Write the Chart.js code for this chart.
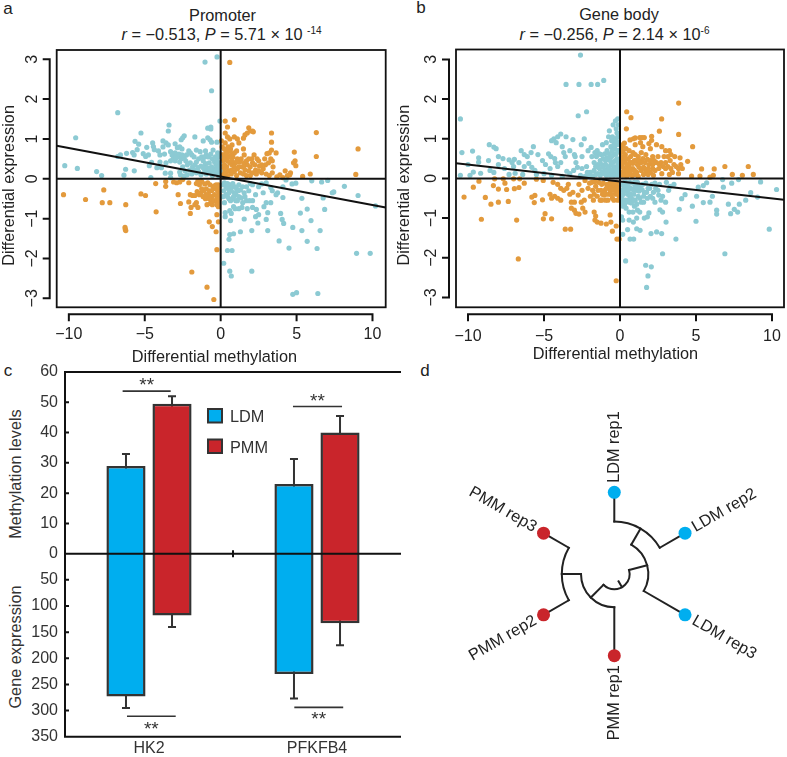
<!DOCTYPE html>
<html><head><meta charset="utf-8">
<script src="https://cdn.jsdelivr.net/npm/chart.js@4"></script>
<style>
html,body{margin:0;padding:0;background:#fff;width:787px;height:757px;overflow:hidden;font-family:"Liberation Sans",Arial,sans-serif;color:#222}
canvas{position:absolute}
.t{position:absolute;font-size:16.3px;line-height:18px;white-space:nowrap;color:#222}
.c{transform:translate(-50%,-50%)}
.v{transform:translate(-50%,-50%) rotate(-90deg)}
sup{font-size:10px;line-height:0;vertical-align:6px}
</style></head><body>
<div class="t c" style="left:8px;top:9px;font-size:17px">a</div>
<div class="t c" style="left:421px;top:8px;font-size:17px">b</div>
<div class="t c" style="left:8px;top:371px;font-size:17px">c</div>
<div class="t c" style="left:425px;top:371px;font-size:17px">d</div>
<div class="t c" style="left:222.5px;top:15px">Promoter</div>
<div class="t c" style="left:221.5px;top:34px"><i>r</i> = −0.513, <i>P</i> = 5.71 × 10 <sup>-14</sup></div>
<div class="t c" style="left:619px;top:14px">Gene body</div>
<div class="t c" style="left:614.5px;top:34px"><i>r</i> = −0.256, <i>P</i> = 2.14 × 10<sup>-6</sup></div>
<div class="t v" style="left:14.5px;top:474px;color:#333">Methylation levels</div>
<div class="t v" style="left:14.5px;top:647px;color:#333">Gene expression</div>
<script>
// ---------- Panel a: promoter ----------
const aBlue=[[-1.03,2.93],[-.24,3.06],[-.6,2.21],[-6.78,1.66],[-9.55,1.03],[-10.27,.33],[-9.44,.26],[-8.17,.18],[-7.84,.08],[-6.37,.09],[-6.26,.24],[-5.69,.2],[-6.78,.56],[-6.6,.6],[-6.2,.64],[-5.8,.66],[-5.7,.6],[-5.64,.94],[-5.4,.87],[-5.25,1.15],[-4.87,.79],[-5.5,.73],[-5.1,.63],[-4.94,.56],[-4.76,.6],[-4.48,.9],[-4.43,.81],[-4.37,.73],[-4.55,.41],[-4.7,.33],
[-3.4,1.35],[-3.45,1.2],[-2.4,1.08],[-2.5,1.03],[-2.6,.98],[-1.7,1.05],[-.85,1.03],[-.7,.98],[-1.15,.95],[-.6,.92],[-.25,.92],[-.85,1.27],[-.65,1.3],[-.65,1.25],[-.05,1.45],[-3.8,.95],[-3.6,.9],[-3.8,.8],[-3.45,.85],[-3,.88],[-2.85,.78],[-2.7,.8],[-2.55,.75],[-2.1,.7],[-2,.65],[-1.9,.6],[-1.6,.72],[-1.35,.68],[-1,.7],[-.95,.6],[-.5,.72],[-.2,.65],[-.1,.55],
[-4.1,.7],[-4,.6],[-3.7,.62],[-3.3,.68],[-3.2,.6],[-3.1,.55],[-3,.65],[-2.9,.6],[-2.8,.55],[-2.6,.5],[-2.4,.52],[-2.3,.45],[-2.7,.42],[-3,.45],[-3.3,.45],[-3.6,.4],[-4,.42],[-4.2,.28],[-3.9,.28],[-3.65,.14],[-3.3,.14],[-2.7,.17],[-2.5,.3],[-2.2,.35],[-2,.4],[-1.85,.3],[-1.7,.35],[-1.6,.42],[-1.5,.28],[-1.3,.32],[-1.15,.45],[-1,.38],[-.9,.28],[-.75,.4],[-.6,.3],[-.55,.5],[-.4,.42],[-.3,.35],[-.15,.28],[-.1,.4],[-.05,.2],[-.2,.12],[-.4,.15],[-.6,.15],[-.8,.18],[-1.05,.2],[-1.3,.1],[-1.6,.15],[-1.9,.12],[-2.2,.1],[-2.4,.07],[-2.65,.1],[-4.6,.03],[-3.3,.03],
[10.2,-.68],[9.05,-.42],[8.15,-.19],[7.35,-.35],[7.45,-.33],[7.05,-.04],[6.65,-.08],[6.75,-.48],[6.85,-.77],[6.55,-1.3],[5.95,-1.05],[5.7,-.76],[5.25,-.86],[5.35,-.49],[4.95,-.11],[6,-.05],[4.3,-.03],[4.1,-.47],[4.1,-.2],[3.75,-.35],[3.95,-.87],[4.05,-1.02],[4.15,-1.12],[4.7,-.13],[5.35,-1.3],[5.7,-1.57],[4.75,-1.22],[3.85,-1.56],[4.5,-1.74],[6.35,-1.75],[8.95,-1.87],[9.85,-1.87],[4.75,-2.9],[5,-2.86],[6.4,-2.88],[2.05,-2.32],[.6,-2.32],[.7,-2.44],[.2,-2.12],[.45,-1.8],[.75,-1.8],[.55,-1.52],[.6,-1.4],[.85,-1.38],[1.3,-1.33],[2.05,-1.3],[3.1,-1.3],[2.45,-1.11],[1.55,-1.01],[3,-1.02],[3.1,-.85],[2.5,-.9],[2.3,-.95],[2.1,-.72],[2.35,-.77],[2.85,-.7],[3,-.6],[3.3,-.6],[3.65,-.4],[3.4,-.3],[2.8,-.35],[2.5,-.2],[2.3,-.4],[2.1,-.55],[1.9,-.55],[1.75,-.75],[1.4,-.72],[1.2,-.75],[.95,-.75],[.85,-.7],[.7,-.87],[.6,-.8],[.3,-.85],[.3,-.95],[.65,-1.05],[1,-.55],[1.2,-.45],[1.35,-.48],[1.55,-.35],[1.7,-.2],[1.85,-.3],[2.1,-.15],[1.2,-.15],[1.05,-.25],[.9,-.35],[.8,-.5],[.7,-.3],[.6,-.15],[.5,-.25],[.35,-.4],[.25,-.6],[.2,-.3],[.15,-.15],[.45,-.45],[1,-.4],[1.15,-.3],[.75,-.2],[2.7,-.13],[3,-.1],[3.3,-.22],[1.45,-.6],[1.7,-.55]];
const aBlueCore=[[-3.15,.48],[-2.95,.52],[-2.75,.62],[-2.55,.6],[-2.25,.6],[-1.75,.55],[-1.45,.5],[-1.25,.55],[-1.05,.55],[-.8,.55],[-.65,.62],[-.35,.55],[-.25,.45],[-.45,.25],[-.7,.25],[-.95,.12],[-1.15,.28],[-1.45,.18],[-1.75,.22],[-2.05,.22],[-2.35,.2],[-.15,.08],[-.3,.22],[-.1,.3],[-.55,.08],
[.15,-.45],[.35,-.2],[.55,-.35],[.65,-.55],[.85,-.45],[.95,-.2],[1.3,-.28],[1.1,-.55],[.45,-.12],[.25,-.1],[.55,-.5],[.8,-.12],[1.45,-.2],[1.6,-.45],[1.95,-.12]];
const aOrange=[[.6,2.92],[.3,1.45],[.9,1.48],[.45,1.3],[1.85,1.28],[1.95,1.2],[1.75,1.15],[2.1,1.2],[2.15,1.18],[1.6,1.1],[1.5,1.02],[3.35,1.15],[6.3,1.16],[9.05,.75],[6.3,.56],[4.85,.67],[4.9,.45],[4.8,.4],[4.95,.33],[4.25,.2],[4.6,.15],[4.55,.1],[4.4,.08],[5.4,.06],[5.9,.12],[8.9,.11],[3.35,.92],[3.35,.72],[3.65,.65],[3.2,.65],[3.05,.63],[3.3,.5],[3.4,.45],[3.45,.3],[3.15,.4],[2.9,.5],[2.95,.35],[2.7,.35],[2.5,.45],[2.4,.5],[2.2,.6],[2.1,.4],[1.95,.3],[1.75,.35],[1.55,.4],[1.5,.75],[1.55,.6],[1.2,.9],[1.05,.7],[1.1,.5],[.9,.65],[.8,.55],[.7,.6],[.65,.75],[.5,.8],[.3,.9],[.3,1.15],[.45,1.05],[.6,1],[.9,1.05],[1.1,1],[.25,.75],[.2,.6],[.35,.55],[.45,.45],[.6,.4],[.75,.35],[.95,.4],[1.25,.42],[1.4,.3],[1.6,.22],[1.85,.2],[2.1,.15],[2.3,.22],[2.5,.2],[2.7,.15],[3,.12],[3.2,.08],[3.4,.15],[3.7,.05],[3.9,.1],[4.1,.03],[.15,.45],[.2,.25],[.35,.15],[.5,.2],[.7,.12],[.9,.18],[1.1,.25],[1.3,.15],[1.5,.12],[1.7,.08],[.15,.1],[.1,.3],[.1,.6],[.1,.8],[.05,.95],
[-10.35,-.4],[-8.9,-.52],[-7.7,-.28],[-7.8,-.6],[-7.3,-.6],[-6.25,-.65],[-6.3,-1.22],[-6.28,-1.27],[-6.25,-1.3],[-5.25,-.38],[-4.95,-.42],[-4.25,-.83],[-4.28,-.12],[-3.62,-.07],[-3.62,-.19],[-2.9,-.1],[-3.1,-.08],[-2.7,-.08],[-2.5,-.02],[-2.1,-.1],[-2.8,-.4],[-2.65,-.62],[-2.1,-.58],[-2,-.4],[-1.85,-.42],[-1.7,-.42],[-1.6,-.6],[-1.5,-.72],[-1.95,-.72],[-2,-.87],[-1.7,-.65],[-1.4,-.4],[-1.3,-.35],[-1.15,-.45],[-1,-.5],[-.9,-.65],[-.7,-.62],[-.55,-.65],[-.6,-.45],[-.4,-.4],[-.3,-.55],[-.15,-.7],[-.2,-.55],[-.25,-.45],[-.1,-.4],[-.1,-.3],[-.2,-.3],[-.35,-.25],[-.5,-.2],[-.7,-.15],[-.85,-.1],[-1.05,-.13],[-1.25,-.07],[-1.4,-.15],[-1.5,-.05],[-.95,-.25],[-.75,-.3],[-.6,-.3],[-.15,-.15],[-.3,-.15],[-.25,-.9],[-.15,-1.08],[-.75,-1.08],[-.55,-1.2],[-.3,-1.33],[-.25,-1.78],[-1.9,-2.34],[-.9,-2.72],[-.45,-3.03],[-.15,-.6]];
const aOrangeCore=[[.25,.35],[.4,.3],[.55,.55],[.75,.45],[.9,.3],[1.05,.42],[1.2,.3],[1.35,.5],[1.5,.3],[1.7,.45],[1.85,.5],[2.05,.5],[2.25,.35],[2.55,.32],[2.8,.25],[2.35,.12],[1.95,.08],[1.05,.08],[.7,.22],[.45,.08],[.25,.15],[.12,.2],[.2,.5],[.4,.65],[.6,.7],[.35,.7],[.75,.85],
[-.2,-.2],[-.4,-.18],[-.45,-.55],[-.6,-.55],[-.8,-.4],[-.95,-.4],[-1.1,-.3],[-1.25,-.25],[-1.6,-.12],[-.1,-.5],[-.25,-.65],[-.1,-.2],[-.75,-.5],[-1.55,-.32]];
const aFit=[[-10.8,.83],[10.87,-.72]];
// ---------- Panel b: gene body ----------
const bBlue=[[-2.6,3.11],[-3.55,2.37],[-2.7,2.37],[-1.9,2.37],[-1.47,2.37],[-1.07,2.47],[-2.2,1.68],[-2.75,1.58],[-10.5,1.5],[-10.4,.65],[-9.7,.69],[-10.5,.08],[-9.3,.52],[-9.3,.41],[-8.6,.85],[-8.3,.79],[-8.15,.75],[-8.65,.45],[-9.87,.08],[-9.65,.16],[-9.17,.13],[-10,.35],
[-8.55,.2],[-8.3,.15],[-8,.35],[-8,.55],[-7.7,.5],[-7.3,.47],[-7.1,.4],[-7,.3],[-6.95,.48],[-6.65,.4],[-6.5,.7],[-6.3,.6],[-6.1,.55],[-6,.38],[-5.85,.65],[-5.7,.8],[-5.4,.6],[-5.1,.45],[-4.9,.35],[-4.7,.62],[-4.55,.55],[-4.5,.95],[-4.35,1],[-4.2,.9],[-4.1,1.05],[-3.9,1.12],[-3.8,.8],[-3.55,1.05],[-3.7,.65],[-3.6,.55],[-3.3,.7],[-3.1,.98],[-3,.6],[-2.95,.55],[-2.9,.4],[-2.5,.55],[-2.55,.85],[-2.35,1],[-2.1,.7],[-1.9,.78],[-1.85,.55],[-1.65,.65],[-1.5,.7],[-1.7,.4],[-1.45,.35],[-1.3,.45],[-1.15,.85],[-1,.62],[-.85,.7],[-.7,1.2],[-.75,1.05],[-.6,.8],[-.5,1.05],[-.45,1.35],[-.3,1.45],[-.25,1.25],[-.2,1.15],[-.15,1.5],[-.1,1.35],[-.35,.95],[-.2,.85],[-.1,.9],[-.1,.7],[-.4,.6],[-.55,.55],[-.2,.5],[-.75,.5],[-.95,.45],[-1.2,.35],[-1,.2],[-.8,.3],[-.6,.35],[-.4,.3],[-.2,.3],[-.1,.15],[-.3,.15],[-.5,.12],[-.7,.15],[-.9,.08],[-1.2,.15],[-1.45,.12],[-1.7,.2],[-1.95,.15],[-2.2,.3],[-2.5,.25],[-2.8,.28],[-3.05,.2],[-3.3,.12],[-3.5,.18],[-2.6,.08],[-2.3,.05],[-1.8,.05],[-5.8,.28],[-6.3,.3],[-5.6,.2],[-5,.12],[-4.6,.25],[-4.1,.3],[-3.9,.4],[-4.25,.4],[-4.3,.5],[-7.6,.25],[-7.3,.1],[-6.9,.13],[-6.4,.1],[-5.5,.1],[-4.5,.08],[-3.8,.05],[-1.55,.55],[-1.25,.6],[-.9,.9],[-.5,.2],
[10.3,-.28],[9.82,-1.28],[9.25,-.09],[8.6,-.36],[9.05,-.47],[8.27,-.55],[7.8,-.03],[7.85,-.65],[7.35,-.12],[6.75,-.03],[6.8,-.22],[7.13,-.65],[7.28,-.89],[7.52,-.78],[7.74,-.85],[6.9,-1.9],[6.36,-.8],[6.36,-.9],[6.08,-.45],[5.92,-.6],[5.48,-.61],[4.76,-.7],[5,-1.08],[5.7,-.11],[5.48,-.18],[5.15,-.22],[5.04,-.45],[4.28,-.41],[4.06,-.51],[3.9,-.78],[3.68,-1.53],[2.8,-1.9],[.37,-2.08],[1.69,-2.19],[2.06,-2.23],[1.84,-2.46],[1.75,-2.75],[.66,-1.53],[.9,-1.53],[.18,-1.41],[.5,-1.29],[1.1,-1.27],[1.32,-1.31],[2.04,-1.39],[2.41,-1.35],[2.74,-1.39],[3.03,-1.1],[2.63,-.79],[2.8,-.85],[1.9,-.87],[1.8,-.97],[1.6,-1],[1.1,-1],[.6,-1.05],[.88,-1.1],[.1,-.97],[.18,-1.05],
[.2,-.7],[.4,-.75],[.6,-.6],[.75,-.5],[.95,-.7],[1.15,-.8],[1.3,-.85],[1.4,-.6],[1.55,-.6],[1.6,-.35],[1.8,-.5],[2,-.45],[2.3,-.6],[2.7,-.55],[2.8,-.45],[3,-.6],[3.2,-.3],[3.3,-.2],[3.05,-.1],[2.6,-.15],[2.35,-.25],[2.1,-.15],[1.85,-.25],[1.3,-.2],[1.05,-.3],[.9,-.4],[.7,-.25],[.5,-.4],[.35,-.55],[.15,-.3],[.1,-.15],[.3,-.1],[.55,-.15],[.85,-.12],[1.15,-.1],[1.5,-.15],[.2,-.55],[.45,-.2],[.65,-.45],[1.2,-.45],[.3,-.3],[1,-.55],[3.55,-.15],[2.5,-.3]];
const bBlueCore=[[-2.15,.15],[-1.6,.3],[-1.35,.25],[-1.1,.28],[-.95,.35],[-.75,.25],[-.65,.45],[-.45,.42],[-.3,.45],[-.15,.4],[-.25,.62],[-.15,.7],[-.35,.75],[-.5,.7],[-.7,.62],[-.85,.52],[-1.1,.5],[-1.35,.62],[-.1,.25],[-.2,.18],[-.35,.25],[-.6,.22],[-.85,.18],[-1.05,.12],[-1.3,.08],[-.4,.08],[-.15,.08],[-.65,.08],[-1.6,.1],[-2.05,.05],[-.25,1],[-.15,1.05],[-.4,.85],[-.55,.95],
[.12,-.45],[.25,-.2],[.4,-.3],[.55,-.3],[.7,-.4],[.85,-.28],[1,-.2],[1.25,-.32],[1.45,-.28],[.2,-.4],[.3,-.65],[.5,-.55],[.75,-.62],[.9,-.55],[1.1,-.65],[1.3,-.5],[1.55,-.45],[1.75,-.35],[1.95,-.25],[2.2,-.35],[2.15,-.5],[2.55,-.42],[.1,-.6],[.4,-.1],[.65,-.1],[.95,-.1],[1.7,-.12],[2.3,-.12],[1.15,-.22],[.6,-.85],[.85,-.85]];
const bOrange=[[3.86,1.9],[.44,1.68],[.72,1.53],[2.74,1.5],[2.59,1.19],[3.86,1.11],[.42,1.25],[2.08,1.06],[2.08,.96],[4.78,.8],[8.44,.3],[8.77,.1],[8.05,.08],[7.39,.1],[6.9,.3],[6.2,.24],[6.14,.08],[5.92,.03],[5.37,.24],[5.26,.06],[4.71,.06],[4.45,.43],[3.95,.52],[.29,.89],[.66,.97],[.88,1],[1,1.02],[1.3,1.03],[1.45,1.03],[1.6,1.03],[1.35,.9],[1,.85],[1.5,.8],[1.9,.88],[2,.75],[2.4,.85],[2.75,.8],[3,.7],[3.25,.7],[3.35,.6],[2.9,.55],[2.5,.55],[2.15,.55],[1.7,.6],[1.4,.65],[1.2,.55],[.85,.65],[.6,.7],[.35,.6],[.2,.7],[.1,.8],[.05,.65],[.15,.5],[.35,.45],[.55,.5],[.75,.4],[.95,.45],[1.15,.35],[1.4,.4],[1.65,.4],[1.9,.35],[2.15,.35],[2.4,.4],[2.7,.4],[3,.4],[3.3,.45],[3.55,.35],[3.7,.3],[3.35,.25],[3,.25],[2.75,.12],[2.55,.25],[2.3,.2],[2,.15],[1.7,.2],[1.4,.2],[1.1,.15],[.85,.25],[.6,.3],[.35,.25],[.15,.3],[.1,.15],[.3,.1],[.55,.1],[.8,.07],[1.2,.05],[3.25,.1],[3.45,.15],[3.85,.12],[4.1,.25],[4,.35],
[-10.26,-.47],[-9.65,-.22],[-9.28,-.07],[-9.12,-1.03],[-8.86,-.48],[-8.49,-.65],[-8.33,-.18],[-8.25,-.01],[-8,-.6],[-8,-.27],[-7.68,-.01],[-7.57,-.12],[-7.46,-.28],[-7.35,-.58],[-7,-.01],[-6.95,-.26],[-6.8,-1.05],[-6.69,-2.03],[-6.6,-.01],[-6.65,-.23],[-6.3,-.12],[-5.8,-.47],[-5.6,-.43],[-5.64,-.61],[-5.04,-1.02],[-4.93,-.89],[-4.5,-1.02],[-5.1,-.54],[-5.05,-.05],[-5.5,-.02],
[-4.6,-.4],[-4.5,-.5],[-4.3,-.45],[-4.1,-.5],[-3.9,-.55],[-4.4,-.1],[-4.1,-.15],[-3.9,-.25],[-3.7,-.3],[-3.5,-.25],[-3.3,-.4],[-3.1,-.35],[-3.2,-.6],[-3,-.6],[-3,-.8],[-3.2,-.75],[-2.9,-.88],[-2.7,-.9],[-2.45,-.75],[-2.3,-.85],[-1.7,-.85],[-1.6,-.95],[-1.65,-1.05],[-1.5,-1.1],[-1.25,-1.13],[-.9,-1.15],[-.65,-.92],[-.6,-1.1],[-.5,-1.33],[-.25,-1.2],[-.2,-1.53],[-.05,-1.53],[-3.6,-1.28],[-3.25,-1.28],[-.25,-2.58],
[-2.7,-.15],[-2.5,-.3],[-2.3,-.05],[-2.1,-.25],[-1.95,-.45],[-1.8,-.3],[-1.6,-.2],[-1.5,-.45],[-1.3,-.55],[-1.15,-.4],[-1,-.3],[-.85,-.15],[-.7,-.4],[-.5,-.5],[-.3,-.4],[-.15,-.55],[-.1,-.3],[-.35,-.2],[-.55,-.2],[-.8,-.55],[-1.2,-.15],[-1.4,-.1],[-.15,-.15],[-.25,-.1],[-.05,-.45],[-2.35,-.55],[-.95,-.55],[-.65,-.3],[-.4,-.55],[-.2,-.3],[-1.85,-.1]];
const bOrangeCore=[[.2,.4],[.3,.52],[.45,.35],[.65,.4],[.85,.38],[1.05,.45],[1.25,.45],[1.5,.5],[1.8,.48],[2,.45],[2.25,.45],[2.6,.35],[2.85,.3],[3.15,.3],[.25,.2],[.45,.2],[.7,.2],[.95,.2],[1.25,.28],[1.55,.28],[1.85,.25],[2.15,.25],[.2,.08],[.45,.05],[.65,.15],[.95,.1],[1.55,.1],[1.85,.1],[2.2,.08],[.12,.4],[.1,.55],[.2,.85],[.4,.75],[.7,.55],[1,.6],[3.15,.55],[3.6,.55],[3.85,.25],
[-.1,-.12],[-.2,-.2],[-.3,-.28],[-.45,-.3],[-.6,-.4],[-.75,-.22],[-.9,-.4],[-1.05,-.42],[-1.25,-.3],[-1.45,-.3],[-1.7,-.4],[-2,-.12],[-.15,-.38],[-.3,-.12],[-.45,-.12],[-.65,-.12],[-.9,-.25],[-1.1,-.12],[-1.65,-.08],[-.08,-.25],[-1.2,-.55],[-1.75,-.55],[-2.55,-.6],[-2.75,-.42],[-3.4,-.15]];
const bFit=[[-10.79,.38],[10.79,-.54]];
const scatterXTicks=[-10,-5,0,5,10];
const scatterYTicks=[-3,-2,-1,0,1,2,3];
// ---------- Panel c: bars ----------
const genes=["HK2","PFKFB4"];
const ldmMethylation=[29,23];
const pmmMethylation=[49.5,40];
const ldmMethylationTop=[32.9,31.3];
const pmmMethylationTop=[52,45.5];
const ldmExpression=[273,230];
const pmmExpression=[118,133];
const ldmExpressionEnd=[295,277];
const pmmExpressionEnd=[140,175];
const methTicks=[0,10,20,30,40,50,60];
const exprTicks=[50,100,150,200,250,300,350];
// ---------- Panel d: tree ----------
const leafNames=["LDM rep1","LDM rep2","LDM rep3","PMM rep1","PMM rep2","PMM rep3"];
const leafAngles=[90,30,-30,-90,210,150];
const leafGroups=["LDM","LDM","LDM","PMM","PMM","PMM"];
const treeRadials=[[90,52.5,81.7],[30,52.5,81.7],[60,34,52.5],[-30,34,81.7],[15,15.3,34],[-135,15.3,33.3],[-90,33.3,81.7],[180,33.3,52.5],[150,52.5,81.7],[210,52.5,81.7],[-60,8.5,15.3]];
const treeArcs=[[52.5,30,90],[34,-30,60],[15.3,-135,15],[33.3,180,270],[52.5,150,210]];
const LEAF_R=81.7;

const FONT='"Liberation Sans", Arial, sans-serif';
const INK='#222', BLUE='#8CCAD3', ORANGE='#E39A3C', CBLUE='#00AEEF', CRED='#C9252B';
Chart.defaults.font.family=FONT; Chart.defaults.font.size=16; Chart.defaults.color=INK; Chart.defaults.animation=false;
Chart.defaults.responsive=false;

function mk(left,top,w,h){const c=document.createElement('canvas');c.width=w;c.height=h;c.style.left=left+'px';c.style.top=top+'px';c.style.width=w+'px';c.style.height=h+'px';document.body.appendChild(c);return c;}
const fmt=v=>v<0?'−'+Math.abs(v):''+v;
const pts=a=>a.map(p=>({x:p[0],y:p[1]}));

const rAxes={id:'rAxes',afterDatasetsDraw(ch){
  const {ctx,chartArea:A,scales:{x,y}}=ch;
  ctx.save();ctx.strokeStyle='#111';ctx.lineWidth=1.8;ctx.lineCap='butt';
  ctx.strokeRect(A.left,A.top,A.right-A.left,A.bottom-A.top);
  ctx.lineWidth=2;
  const ax=A.bottom+7, ay=A.left-7;
  ctx.beginPath();
  ctx.moveTo(x.getPixelForValue(scatterXTicks[0]),ax);ctx.lineTo(x.getPixelForValue(scatterXTicks[4]),ax);
  scatterXTicks.forEach(t=>{const p=x.getPixelForValue(t);ctx.moveTo(p,ax-1);ctx.lineTo(p,ax+7);});
  ctx.moveTo(ay,y.getPixelForValue(-3));ctx.lineTo(ay,y.getPixelForValue(3));
  scatterYTicks.forEach(t=>{const p=y.getPixelForValue(t);ctx.moveTo(ay+1,p);ctx.lineTo(ay-7,p);});
  ctx.stroke();ctx.restore();
}};
function scatter(canvas,blue,orange,fit,area,xr,yr,xt,yt,xtGap,ytPad,xTitlePad){
  return new Chart(canvas,{type:'scatter',plugins:[rAxes],data:{datasets:[
    {data:pts(fit),showLine:true,borderColor:'#111',borderWidth:2,pointRadius:0},
    {data:pts([[xr[0],0],[xr[1],0]]),showLine:true,borderColor:'#111',borderWidth:2,pointRadius:0},
    {data:pts([[0,yr[0]],[0,yr[1]]]),showLine:true,borderColor:'#111',borderWidth:2,pointRadius:0},
    {data:pts(blue),backgroundColor:BLUE,borderWidth:0,pointRadius:2.6},
    {data:pts(orange),backgroundColor:ORANGE,borderWidth:0,pointRadius:2.6}
  ]},options:{
    layout:{autoPadding:false,padding:{left:0,top:area.top,right:canvas.width-area.right,bottom:0}},
    plugins:{legend:{display:false},tooltip:{enabled:false}},
    scales:{
      x:{type:'linear',min:xr[0],max:xr[1],grid:{display:true,drawOnChartArea:false,drawTicks:true,tickLength:xtGap,tickColor:'rgba(0,0,0,0)'},border:{display:false},
        afterBuildTicks:s=>{s.ticks=scatterXTicks.map(v=>({value:v}));},
        afterFit:s=>{s.height=canvas.height-area.bottom;},
        ticks:{callback:fmt,padding:0,autoSkip:false,maxRotation:0,color:INK},
        title:{display:true,text:xt,color:INK,font:{size:16.3},padding:{top:0,bottom:xTitlePad}}},
      y:{type:'linear',min:yr[0],max:yr[1],grid:{display:false,drawTicks:false},border:{display:false},
        afterBuildTicks:s=>{s.ticks=scatterYTicks.map(v=>({value:v}));},
        afterFit:s=>{s.width=area.left;},
        ticks:{callback:fmt,padding:ytPad,autoSkip:false,minRotation:90,maxRotation:90,crossAlign:'center',color:INK},
        title:{display:true,text:yt,color:INK,font:{size:16.3},padding:0}}
    }}});
}
scatter(mk(0,0,393,370),aBlue.concat(aBlueCore),aOrange.concat(aOrangeCore),aFit,{left:56.7,top:50,right:385.7,bottom:307.3},[-10.8,10.87],[-3.226,3.233],'Differential methylation   ','Differential expression   ',18,14.7,2.4);
scatter(mk(395,0,392,368),bBlue.concat(bBlueCore),bOrange.concat(bOrangeCore),bFit,{left:61,top:49.5,right:389,bottom:307.3},[-10.79,10.79],[-3.25,3.25],'Differential methylation  ','Differential expression   ',20,15.7,3.4);

// Panel c: the lower half of the axis reads gene expression, at its own scale.
const CTOP=340;
const METH_MIN=-60.43, METH_MAX=60, EXPR_MIN=-347.5, EXPR_MAX=350;
const exprToMeth=v=>-v*(-METH_MIN)/EXPR_MAX;
const methToExpr=v=>Math.round(-v*EXPR_MAX/(-METH_MIN));
const signif=[{axis:'yMeth',a:-.157,b:.129,v:53.7,dy:-5},{axis:'yMeth',a:.857,b:1.149,v:48.6,dy:-4.5},{axis:'yExpr',a:-.131,b:.159,v:311,dy:13},{axis:'yExpr',a:.865,b:1.156,v:294,dy:12}];
const barDeco={id:'barDeco',
  beforeDatasetsDraw(ch){
    const {ctx,scales:{yMeth,yExpr}}=ch;
    ctx.save();ctx.strokeStyle='#333';ctx.lineWidth=2;ctx.beginPath();
    [[0,yMeth,ldmMethylationTop],[1,yMeth,pmmMethylationTop],[2,yExpr,ldmExpressionEnd],[3,yExpr,pmmExpressionEnd]].forEach(([d,s,arr])=>{
      ch.getDatasetMeta(d).data.forEach((el,i)=>{
        const p=s.getPixelForValue(arr[i]);
        ctx.moveTo(el.x,s.getPixelForValue(0));ctx.lineTo(el.x,p);ctx.moveTo(el.x-4,p);ctx.lineTo(el.x+4,p);
      });
    });ctx.stroke();ctx.restore();
  },
  afterDatasetsDraw(ch){
    const {ctx,chartArea:A,scales:{x,yMeth,yExpr}}=ch;
    ctx.save();ctx.strokeStyle='#111';ctx.lineWidth=2;ctx.beginPath();
    ctx.moveTo(A.right,A.top);ctx.lineTo(A.left,A.top);ctx.lineTo(A.left,A.bottom);ctx.lineTo(A.right,A.bottom);
    const z=yMeth.getPixelForValue(0);ctx.moveTo(A.left,z);ctx.lineTo(A.right,z);
    methTicks.forEach(t=>{const p=yMeth.getPixelForValue(t);ctx.moveTo(A.left,p);ctx.lineTo(A.left+4,p);});
    exprTicks.forEach(t=>{const p=yExpr.getPixelForValue(t);ctx.moveTo(A.left,p);ctx.lineTo(A.left+4,p);});
    const m=x.getPixelForValue(.5);ctx.moveTo(m,z-3.5);ctx.lineTo(m,z+3.5);
    ctx.stroke();
    ctx.strokeStyle='#333';ctx.lineWidth=1.6;ctx.fillStyle='#333';ctx.textAlign='center';ctx.textBaseline='middle';ctx.font='19px '+FONT;
    signif.forEach(s=>{const p=ch.scales[s.axis].getPixelForValue(s.v);const a=x.getPixelForValue(s.a),b=x.getPixelForValue(s.b);
      ctx.beginPath();ctx.moveTo(a,p);ctx.lineTo(b,p);ctx.stroke();ctx.fillText('**',(a+b)/2,p+s.dy);});
    ctx.textAlign='left';ctx.font='16.3px '+FONT;
    [[ch.data.datasets[0],409],[ch.data.datasets[1],439.5]].forEach(([d,top])=>{
      ctx.fillStyle=d.backgroundColor;ctx.strokeStyle='#333';ctx.lineWidth=2;
      const ty=top-CTOP;
      ctx.fillRect(208,ty,14,13.5);ctx.strokeRect(208,ty,14,13.5);
      ctx.fillStyle='#333';ctx.fillText(d.label,230,ty+9);
    });
    ctx.restore();
  }};
const barStyle={borderColor:'#333',borderWidth:2.5,barPercentage:.85,categoryPercentage:.548,borderSkipped:'start'};
new Chart(mk(0,CTOP,405,417),{type:'bar',plugins:[barDeco],data:{labels:genes,datasets:[
  {label:'LDM',data:ldmMethylation,backgroundColor:CBLUE,yAxisID:'yMeth',stack:'LDM',...barStyle},
  {label:'PMM',data:pmmMethylation,backgroundColor:CRED,yAxisID:'yMeth',stack:'PMM',...barStyle},
  {label:'LDM expression',data:ldmExpression,backgroundColor:CBLUE,yAxisID:'yExpr',stack:'LDM',...barStyle},
  {label:'PMM expression',data:pmmExpression,backgroundColor:CRED,yAxisID:'yExpr',stack:'PMM',...barStyle}
]},options:{
  layout:{autoPadding:false,padding:{left:0,top:32,right:4,bottom:0}},
  plugins:{legend:{display:false},tooltip:{enabled:false}},
  scales:{
    x:{grid:{display:false,drawTicks:false},border:{display:false},ticks:{padding:2,color:'#333',maxRotation:0},afterFit:s=>{s.height=417-396.7;}},
    yMeth:{type:'linear',position:'left',min:METH_MIN,max:METH_MAX,grid:{display:false,drawTicks:false},border:{display:false},
      afterBuildTicks:s=>{s.ticks=methTicks.concat(exprTicks.map(exprToMeth)).map(v=>({value:v}));},afterFit:s=>{s.width=65;},
      ticks:{padding:7,color:'#333',autoSkip:false,callback:v=>v<0?''+methToExpr(v):''+v}},
    yExpr:{type:'linear',display:false,position:'left',reverse:true,min:EXPR_MIN,max:EXPR_MAX}
  }}});

// Panel d
const rad=d=>d*Math.PI/180;
const treeDeco={id:'treeDeco',beforeDatasetsDraw(ch){
  const {ctx,scales:{x,y}}=ch;
  const cx=x.getPixelForValue(0),cy=y.getPixelForValue(0),u=x.getPixelForValue(1)-cx;
  ctx.save();ctx.strokeStyle='#222';ctx.lineWidth=2;ctx.lineCap='square';
  treeRadials.forEach(([a,r0,r1])=>{ctx.beginPath();
    ctx.moveTo(x.getPixelForValue(r0*Math.cos(rad(a))),y.getPixelForValue(r0*Math.sin(rad(a))));
    ctx.lineTo(x.getPixelForValue(r1*Math.cos(rad(a))),y.getPixelForValue(r1*Math.sin(rad(a))));ctx.stroke();});
  treeArcs.forEach(([r,a0,a1])=>{ctx.beginPath();ctx.arc(cx,cy,r*u,-rad(a0),-rad(a1),true);ctx.stroke();});
  ctx.restore();
},afterDatasetsDraw(ch){
  const {ctx,scales:{x,y}}=ch;
  ctx.save();ctx.fillStyle='#222';ctx.font='16.3px '+FONT;ctx.textBaseline='middle';
  leafNames.forEach((n,i)=>{const a=leafAngles[i];const r=LEAF_R+9.5;
    const px=x.getPixelForValue(r*Math.cos(rad(a))),py=y.getPixelForValue(r*Math.sin(rad(a)));
    const left=Math.cos(rad(a))<-0.01||a===-90;
    ctx.save();ctx.translate(px,py);
    ctx.rotate(left?-rad(a-180):-rad(a));
    ctx.textAlign=left?'right':'left';ctx.fillText(n,0,0);ctx.restore();});
  ctx.restore();
}};
new Chart(mk(415,395,372,362),{type:'scatter',plugins:[treeDeco],data:{datasets:[{
  data:leafAngles.map(a=>({x:LEAF_R*Math.cos(rad(a)),y:LEAF_R*Math.sin(rad(a))})),
  backgroundColor:leafGroups.map(g=>g==='LDM'?CBLUE:CRED),borderWidth:0,pointRadius:6.5}]},
  options:{layout:{autoPadding:false,padding:0},plugins:{legend:{display:false},tooltip:{enabled:false}},
  scales:{x:{type:'linear',display:false,min:-199.3,max:172.7},y:{type:'linear',display:false,min:-183,max:179}}}});
</script></body></html>
